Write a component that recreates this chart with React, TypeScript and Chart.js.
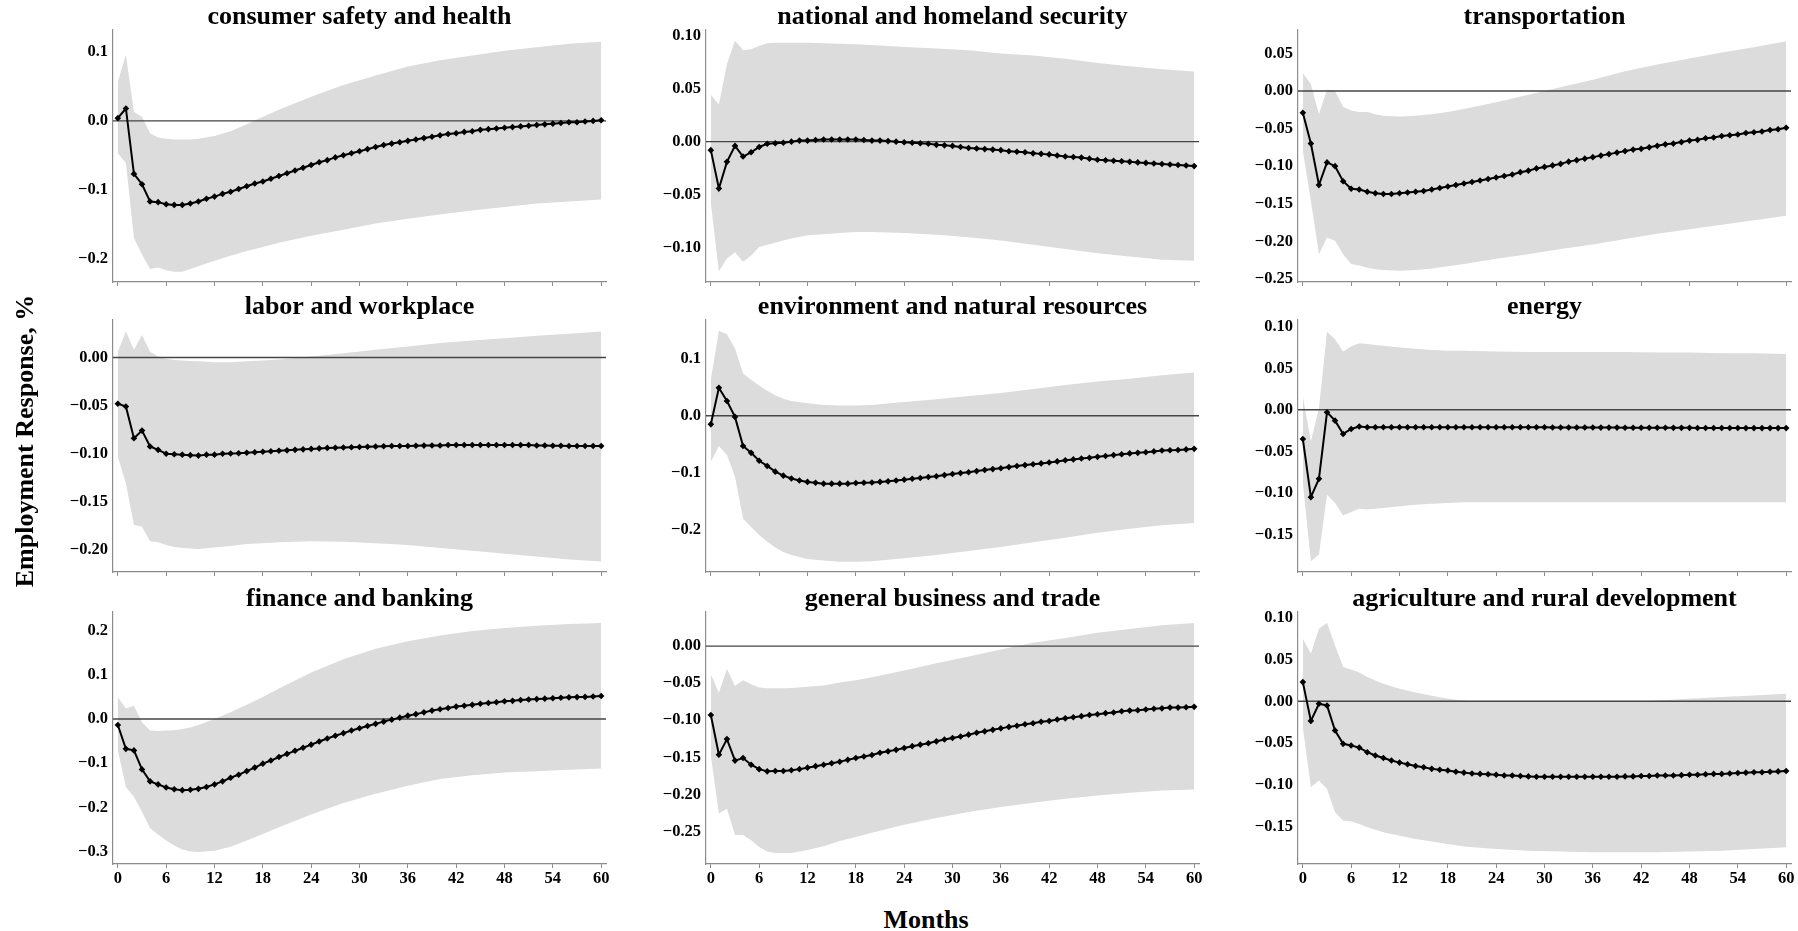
import React, { useEffect, useRef } from "react";
import { Chart, registerables } from "chart.js";

Chart.register(...registerables);

// ---------- categories ----------
const MONTHS = [
  0, 1, 2, 3, 4, 5, 6, 7, 8, 9, 10, 11, 12, 13, 14, 15, 16, 17, 18, 19, 20,
  21, 22, 23, 24, 25, 26, 27, 28, 29, 30, 31, 32, 33, 34, 35, 36, 37, 38, 39, 40,
  41, 42, 43, 44, 45, 46, 47, 48, 49, 50, 51, 52, 53, 54, 55, 56, 57, 58, 59, 60,
];
const BAND_MONTHS = [0, 1, 2, 3, 4, 5, 6, 7, 8, 9, 10, 12, 14, 16, 18, 20, 24, 28, 32, 36, 40, 44, 48, 52, 56, 60];
const X_TICKS = [0, 6, 12, 18, 24, 30, 36, 42, 48, 54, 60];
const X_LIMITS = [-0.6, 60.6];

// ---------- consumer safety and health ----------
const CONSUMER_IRF = [
  0.004, 0.018, -0.077, -0.092, -0.117, -0.118, -0.121, -0.122, -0.122, -0.12, -0.117,
  -0.113, -0.11, -0.106, -0.103, -0.099, -0.095, -0.091, -0.088, -0.084, -0.08,
  -0.076, -0.072, -0.068, -0.064, -0.06, -0.057, -0.053, -0.05, -0.047, -0.044,
  -0.041, -0.038, -0.035, -0.033, -0.031, -0.029, -0.027, -0.025, -0.023, -0.021,
  -0.019, -0.018, -0.016, -0.015, -0.013, -0.012, -0.011, -0.01, -0.009, -0.008,
  -0.007, -0.006, -0.005, -0.004, -0.003, -0.002, -0.002, -0.001, 0.0, 0.001,
];
const CONSUMER_UPPER = [0.057, 0.096, 0.013, 0.006, -0.018, -0.024, -0.026, -0.027, -0.027, -0.027, -0.026, -0.022, -0.015, -0.005, 0.006, 0.016, 0.035, 0.052, 0.066, 0.079, 0.088, 0.095, 0.102, 0.107, 0.112, 0.115];
const CONSUMER_LOWER = [-0.047, -0.061, -0.17, -0.194, -0.215, -0.213, -0.217, -0.219, -0.219, -0.215, -0.211, -0.203, -0.196, -0.189, -0.183, -0.177, -0.167, -0.158, -0.149, -0.142, -0.136, -0.13, -0.125, -0.12, -0.117, -0.114];
const CONSUMER_YLIM = [-0.234, 0.132];
const CONSUMER_TICKS = [-0.2, -0.1, 0.0, 0.1];

// ---------- national and homeland security ----------
const SECURITY_IRF = [
  -0.008, -0.044, -0.019, -0.004, -0.014, -0.01, -0.005, -0.002, -0.0015, -0.001, 0.0,
  0.001, 0.001, 0.0015, 0.002, 0.002, 0.002, 0.002, 0.002, 0.0015, 0.001,
  0.001, 0.0005, 0.0, -0.0005, -0.001, -0.0015, -0.002, -0.003, -0.0035, -0.004,
  -0.005, -0.006, -0.0065, -0.007, -0.0075, -0.008, -0.009, -0.0095, -0.01, -0.011,
  -0.0115, -0.012, -0.013, -0.014, -0.0145, -0.015, -0.016, -0.017, -0.0175, -0.018,
  -0.0185, -0.019, -0.0195, -0.02, -0.0205, -0.021, -0.0215, -0.022, -0.0225, -0.023,
];
const SECURITY_UPPER = [0.044, 0.035, 0.073, 0.095, 0.086, 0.087, 0.09, 0.0925, 0.093, 0.093, 0.093, 0.093, 0.0925, 0.092, 0.0915, 0.091, 0.089, 0.0875, 0.086, 0.083, 0.081, 0.078, 0.074, 0.071, 0.068, 0.066];
const SECURITY_LOWER = [-0.058, -0.122, -0.11, -0.104, -0.113, -0.107, -0.099, -0.097, -0.095, -0.093, -0.091, -0.088, -0.087, -0.086, -0.085, -0.085, -0.086, -0.0875, -0.09, -0.093, -0.097, -0.101, -0.105, -0.108, -0.111, -0.112];
const SECURITY_YLIM = [-0.132, 0.105];
const SECURITY_TICKS = [-0.1, -0.05, 0.0, 0.05, 0.1];

// ---------- transportation ----------
const TRANSPORT_IRF = [
  -0.029, -0.07, -0.125, -0.095, -0.1, -0.12, -0.13, -0.131, -0.134, -0.136, -0.137,
  -0.137, -0.136, -0.135, -0.134, -0.133, -0.131, -0.129, -0.127, -0.125, -0.123,
  -0.121, -0.119, -0.117, -0.115, -0.113, -0.111, -0.108, -0.106, -0.103, -0.101,
  -0.099, -0.097, -0.094, -0.092, -0.09, -0.088, -0.086, -0.084, -0.082, -0.08,
  -0.078, -0.077, -0.075, -0.073, -0.071, -0.07, -0.068, -0.066, -0.065, -0.063,
  -0.062, -0.06, -0.059, -0.058, -0.056, -0.055, -0.054, -0.052, -0.051, -0.049,
];
const TRANSPORT_UPPER = [0.024, 0.009, -0.031, 0.002, 0.0, -0.021, -0.026, -0.028, -0.028, -0.031, -0.033, -0.034, -0.033, -0.031, -0.028, -0.024, -0.015, -0.005, 0.005, 0.015, 0.026, 0.035, 0.043, 0.051, 0.058, 0.066];
const TRANSPORT_LOWER = [-0.08, -0.146, -0.217, -0.195, -0.199, -0.217, -0.23, -0.232, -0.235, -0.237, -0.238, -0.239, -0.238, -0.236, -0.233, -0.23, -0.223, -0.217, -0.21, -0.204, -0.197, -0.19, -0.184, -0.178, -0.172, -0.166];
const TRANSPORT_YLIM = [-0.254, 0.081];
const TRANSPORT_TICKS = [-0.25, -0.2, -0.15, -0.1, -0.05, 0.0, 0.05];

// ---------- labor and workplace ----------
const LABOR_IRF = [
  -0.048, -0.051, -0.084, -0.076, -0.0925, -0.096, -0.1, -0.1005, -0.101, -0.1015, -0.102,
  -0.101, -0.101, -0.1, -0.0998, -0.0995, -0.099, -0.0985, -0.098, -0.0975, -0.097,
  -0.0965, -0.096, -0.0955, -0.095, -0.0945, -0.094, -0.0938, -0.0936, -0.0933, -0.093,
  -0.0928, -0.0925, -0.0923, -0.092, -0.092, -0.092, -0.0918, -0.0916, -0.0915, -0.0915,
  -0.091, -0.091, -0.091, -0.091, -0.091, -0.091, -0.091, -0.091, -0.091, -0.091,
  -0.091, -0.0915, -0.0915, -0.0917, -0.0918, -0.092, -0.092, -0.092, -0.092, -0.092,
];
const LABOR_UPPER = [0.006, 0.027, 0.008, 0.0235, 0.006, 0.001, -0.0014, -0.0025, -0.003, -0.0035, -0.004, -0.005, -0.005, -0.004, -0.003, -0.002, 0.001, 0.0045, 0.008, 0.0114, 0.015, 0.0177, 0.02, 0.0225, 0.0246, 0.027];
const LABOR_LOWER = [-0.103, -0.131, -0.174, -0.176, -0.191, -0.192, -0.195, -0.197, -0.198, -0.1985, -0.199, -0.1975, -0.196, -0.194, -0.193, -0.192, -0.191, -0.1915, -0.193, -0.195, -0.198, -0.201, -0.204, -0.207, -0.21, -0.212];
const LABOR_YLIM = [-0.223, 0.039];
const LABOR_TICKS = [-0.2, -0.15, -0.1, -0.05, 0.0];

// ---------- environment and natural resources ----------
const ENVIRON_IRF = [
  -0.015, 0.049, 0.026, -0.002, -0.053, -0.065, -0.079, -0.088, -0.098, -0.105, -0.11,
  -0.1135, -0.116, -0.1175, -0.119, -0.119, -0.119, -0.119, -0.118, -0.1175, -0.117,
  -0.116, -0.115, -0.1135, -0.112, -0.1105, -0.109, -0.1075, -0.106, -0.104, -0.102,
  -0.1005, -0.099, -0.097, -0.095, -0.0935, -0.092, -0.09, -0.088, -0.0865, -0.085,
  -0.0835, -0.082, -0.08, -0.078, -0.0765, -0.075, -0.0735, -0.072, -0.0705, -0.069,
  -0.0675, -0.066, -0.065, -0.064, -0.0625, -0.061, -0.0605, -0.06, -0.059, -0.058,
];
const ENVIRON_UPPER = [0.063, 0.149, 0.143, 0.118, 0.074, 0.063, 0.053, 0.044, 0.036, 0.03, 0.026, 0.022, 0.019, 0.018, 0.018, 0.019, 0.024, 0.029, 0.0345, 0.04, 0.047, 0.054, 0.06, 0.065, 0.071, 0.076];
const ENVIRON_LOWER = [-0.081, -0.053, -0.069, -0.107, -0.18, -0.195, -0.209, -0.221, -0.231, -0.239, -0.244, -0.251, -0.254, -0.256, -0.256, -0.255, -0.25, -0.244, -0.237, -0.23, -0.222, -0.214, -0.205, -0.198, -0.192, -0.188];
const ENVIRON_YLIM = [-0.274, 0.168];
const ENVIRON_TICKS = [-0.2, -0.1, 0.0, 0.1];

// ---------- energy ----------
const ENERGY_IRF = [
  -0.035, -0.105, -0.083, -0.003, -0.013, -0.029, -0.023, -0.02, -0.021, -0.021, -0.021,
  -0.021, -0.021, -0.021, -0.021, -0.021, -0.021, -0.021, -0.021, -0.021, -0.021,
  -0.021, -0.021, -0.021, -0.021, -0.021, -0.021, -0.021, -0.021, -0.021, -0.021,
  -0.0212, -0.0212, -0.0212, -0.0213, -0.0213, -0.0213, -0.0214, -0.0214, -0.0214, -0.0215,
  -0.0215, -0.0215, -0.0216, -0.0216, -0.0216, -0.0217, -0.0217, -0.0217, -0.0218, -0.0218,
  -0.0218, -0.0219, -0.0219, -0.0219, -0.022, -0.022, -0.022, -0.022, -0.022, -0.022,
];
const ENERGY_UPPER = [0.016, -0.038, 0.002, 0.094, 0.085, 0.07, 0.076, 0.08, 0.079, 0.078, 0.077, 0.075, 0.0735, 0.072, 0.071, 0.071, 0.07, 0.0695, 0.0695, 0.0695, 0.0695, 0.069, 0.069, 0.068, 0.068, 0.067];
const ENERGY_LOWER = [-0.088, -0.182, -0.174, -0.102, -0.112, -0.127, -0.123, -0.119, -0.12, -0.119, -0.118, -0.116, -0.114, -0.113, -0.112, -0.111, -0.111, -0.111, -0.111, -0.111, -0.111, -0.111, -0.111, -0.111, -0.111, -0.111];
const ENERGY_YLIM = [-0.195, 0.108];
const ENERGY_TICKS = [-0.15, -0.1, -0.05, 0.0, 0.05, 0.1];

// ---------- finance and banking ----------
const FINANCE_IRF = [
  -0.0135, -0.0675, -0.071, -0.114, -0.141, -0.148, -0.155, -0.159, -0.161, -0.16, -0.158,
  -0.154, -0.148, -0.141, -0.133, -0.126, -0.118, -0.11, -0.101, -0.094, -0.086,
  -0.079, -0.072, -0.065, -0.058, -0.051, -0.044, -0.038, -0.032, -0.026, -0.021,
  -0.016, -0.011, -0.006, -0.0015, 0.003, 0.0075, 0.011, 0.015, 0.019, 0.022,
  0.025, 0.028, 0.03, 0.032, 0.0345, 0.036, 0.038, 0.04, 0.041, 0.043,
  0.044, 0.045, 0.046, 0.047, 0.048, 0.049, 0.0495, 0.05, 0.051, 0.052,
];
const FINANCE_UPPER = [0.049, 0.024, 0.03, -0.0075, -0.026, -0.027, -0.026, -0.0255, -0.0225, -0.019, -0.0135, 0.0, 0.015, 0.032, 0.05, 0.069, 0.105, 0.135, 0.159, 0.176, 0.189, 0.199, 0.206, 0.211, 0.215, 0.217];
const FINANCE_LOWER = [-0.071, -0.154, -0.176, -0.21, -0.247, -0.261, -0.275, -0.286, -0.295, -0.3, -0.301, -0.298, -0.289, -0.275, -0.26, -0.245, -0.216, -0.19, -0.169, -0.151, -0.136, -0.127, -0.121, -0.118, -0.115, -0.112];
const FINANCE_YLIM = [-0.328, 0.242];
const FINANCE_TICKS = [-0.3, -0.2, -0.1, 0.0, 0.1, 0.2];

// ---------- general business and trade ----------
const BUSINESS_IRF = [
  -0.093, -0.1465, -0.1255, -0.1545, -0.151, -0.16, -0.166, -0.169, -0.1685, -0.1685, -0.1675,
  -0.166, -0.164, -0.162, -0.16, -0.158, -0.156, -0.1535, -0.151, -0.149, -0.147,
  -0.144, -0.142, -0.14, -0.1375, -0.135, -0.133, -0.131, -0.1285, -0.126, -0.124,
  -0.122, -0.1195, -0.117, -0.115, -0.113, -0.111, -0.109, -0.1075, -0.1055, -0.104,
  -0.102, -0.101, -0.099, -0.0975, -0.096, -0.0945, -0.093, -0.092, -0.0905, -0.0895,
  -0.088, -0.087, -0.0865, -0.0855, -0.0845, -0.084, -0.083, -0.083, -0.0825, -0.082,
];
const BUSINESS_UPPER = [-0.038, -0.063, -0.031, -0.054, -0.046, -0.0515, -0.056, -0.057, -0.057, -0.057, -0.0565, -0.055, -0.053, -0.049, -0.046, -0.042, -0.033, -0.023, -0.014, -0.0045, 0.0045, 0.011, 0.018, 0.023, 0.028, 0.031];
const BUSINESS_LOWER = [-0.148, -0.226, -0.2195, -0.255, -0.255, -0.262, -0.271, -0.277, -0.279, -0.279, -0.279, -0.275, -0.27, -0.263, -0.2575, -0.252, -0.241, -0.232, -0.224, -0.217, -0.2115, -0.206, -0.2015, -0.198, -0.195, -0.1935];
const BUSINESS_YLIM = [-0.294, 0.046];
const BUSINESS_TICKS = [-0.25, -0.2, -0.15, -0.1, -0.05, 0.0];

// ---------- agriculture and rural development ----------
const AGRI_IRF = [
  0.023, -0.0235, -0.003, -0.005, -0.035, -0.051, -0.053, -0.0555, -0.061, -0.065, -0.068,
  -0.071, -0.0735, -0.0755, -0.0775, -0.079, -0.081, -0.082, -0.083, -0.0845, -0.0855,
  -0.0865, -0.087, -0.0875, -0.088, -0.089, -0.089, -0.0895, -0.09, -0.0905, -0.0905,
  -0.0905, -0.0905, -0.0905, -0.0905, -0.0905, -0.0905, -0.0905, -0.0905, -0.0905, -0.09,
  -0.09, -0.0895, -0.0895, -0.089, -0.089, -0.089, -0.0885, -0.088, -0.088, -0.0875,
  -0.087, -0.087, -0.0865, -0.086, -0.0855, -0.085, -0.085, -0.0845, -0.084, -0.0835,
];
const AGRI_UPPER = [0.075, 0.057, 0.087, 0.094, 0.067, 0.041, 0.038, 0.0345, 0.029, 0.025, 0.021, 0.015, 0.0105, 0.0065, 0.003, 0.001, -0.001, -0.001, -0.001, -0.001, -0.0005, 0.001, 0.003, 0.005, 0.007, 0.009];
const AGRI_LOWER = [-0.031, -0.103, -0.095, -0.105, -0.133, -0.143, -0.144, -0.147, -0.151, -0.154, -0.157, -0.161, -0.165, -0.168, -0.171, -0.174, -0.177, -0.179, -0.18, -0.181, -0.181, -0.181, -0.18, -0.179, -0.177, -0.175];
const AGRI_YLIM = [-0.195, 0.107];
const AGRI_TICKS = [-0.15, -0.1, -0.05, 0.0, 0.05, 0.1];

// ---------- panel table (built from the arrays above) ----------
const PANELS = [
  { title: "consumer safety and health", irf: CONSUMER_IRF, upper: CONSUMER_UPPER, lower: CONSUMER_LOWER, ylim: CONSUMER_YLIM, ticks: CONSUMER_TICKS, dec: 1 },
  { title: "national and homeland security", irf: SECURITY_IRF, upper: SECURITY_UPPER, lower: SECURITY_LOWER, ylim: SECURITY_YLIM, ticks: SECURITY_TICKS, dec: 2 },
  { title: "transportation", irf: TRANSPORT_IRF, upper: TRANSPORT_UPPER, lower: TRANSPORT_LOWER, ylim: TRANSPORT_YLIM, ticks: TRANSPORT_TICKS, dec: 2 },
  { title: "labor and workplace", irf: LABOR_IRF, upper: LABOR_UPPER, lower: LABOR_LOWER, ylim: LABOR_YLIM, ticks: LABOR_TICKS, dec: 2 },
  { title: "environment and natural resources", irf: ENVIRON_IRF, upper: ENVIRON_UPPER, lower: ENVIRON_LOWER, ylim: ENVIRON_YLIM, ticks: ENVIRON_TICKS, dec: 1 },
  { title: "energy", irf: ENERGY_IRF, upper: ENERGY_UPPER, lower: ENERGY_LOWER, ylim: ENERGY_YLIM, ticks: ENERGY_TICKS, dec: 2 },
  { title: "finance and banking", irf: FINANCE_IRF, upper: FINANCE_UPPER, lower: FINANCE_LOWER, ylim: FINANCE_YLIM, ticks: FINANCE_TICKS, dec: 1 },
  { title: "general business and trade", irf: BUSINESS_IRF, upper: BUSINESS_UPPER, lower: BUSINESS_LOWER, ylim: BUSINESS_YLIM, ticks: BUSINESS_TICKS, dec: 2 },
  { title: "agriculture and rural development", irf: AGRI_IRF, upper: AGRI_UPPER, lower: AGRI_LOWER, ylim: AGRI_YLIM, ticks: AGRI_TICKS, dec: 2 },
];

// ---------- layout & style ----------
const FONT = '"Liberation Serif", "Times New Roman", Times, serif';
const COL_LEFT = [113, 706, 1298];
const ROW_TOP = [30, 320, 612];
const PLOT_W = 493;
const PLOT_H = 252;
const Y_AXIS_W = 70;
const TITLE_H = 26;
const X_AXIS_H = 32;
const PAD_R = 22;
const TICK_SIZE = 16.5;
const SPINE = "#8c8c8c";
const BAND = "#dcdcdc";
const ZERO = "#454545";

function fmt(v: number, dec: number): string {
  const s = Math.abs(v).toFixed(dec);
  return (v < -1e-9 ? "\u2212" : "") + s;
}

function Panel({ p, col, row }: { p: any; col: number; row: number }) {
  const ref = useRef<HTMLCanvasElement>(null);
  const showX = row === 2;
  useEffect(() => {
    const chart = new Chart(ref.current as HTMLCanvasElement, {
      type: "line",
      data: {
        datasets: [
          {
            data: MONTHS.map((m, i) => ({ x: m, y: p.irf[i] })),
            borderColor: "#000",
            borderWidth: 2,
            pointStyle: "rectRot",
            pointRadius: 3.3,
            pointBackgroundColor: "#000",
            pointBorderColor: "#000",
            pointBorderWidth: 0,
            fill: false,
            tension: 0,
          },
          {
            data: [
              { x: X_LIMITS[0], y: 0 },
              { x: X_LIMITS[1], y: 0 },
            ],
            borderColor: ZERO,
            borderWidth: 1.4,
            pointRadius: 0,
            fill: false,
          },
          {
            data: BAND_MONTHS.map((m, i) => ({ x: m, y: p.upper[i] })),
            borderWidth: 0,
            borderColor: "rgba(0,0,0,0)",
            pointRadius: 0,
            backgroundColor: BAND,
            fill: "+1",
          },
          {
            data: BAND_MONTHS.map((m, i) => ({ x: m, y: p.lower[i] })),
            borderWidth: 0,
            borderColor: "rgba(0,0,0,0)",
            pointRadius: 0,
            fill: false,
          },
        ],
      },
      options: {
        animation: false,
        responsive: false,
        events: [],
        layout: { padding: { left: 0, right: PAD_R, top: 0, bottom: 0 } },
        plugins: {
          legend: { display: false },
          tooltip: { enabled: false },
          title: {
            display: true,
            fullSize: false,
            text: p.title,
            color: "#000",
            font: { family: FONT, size: 26, weight: "bold", lineHeight: 1 },
            padding: 0,
          },
        },
        scales: {
          x: {
            type: "linear",
            min: X_LIMITS[0],
            max: X_LIMITS[1],
            bounds: "data",
            afterBuildTicks: (s: any) => {
              s.ticks = X_TICKS.map((v) => ({ value: v }));
            },
            afterFit: (s: any) => {
              s.height = X_AXIS_H;
              s.paddingLeft = 0;
              s.paddingRight = 0;
            },
            ticks: {
              display: showX,
              color: "#000",
              font: { family: FONT, size: TICK_SIZE, weight: "bold" },
              padding: 1,
              maxRotation: 0,
              autoSkip: false,
              callback: (v: any) => String(v),
            },
            grid: { display: true, drawOnChartArea: false, drawTicks: true, tickLength: 4, color: SPINE, lineWidth: 1 },
            border: { display: true, color: SPINE, width: 1.2 },
          },
          y: {
            type: "linear",
            min: p.ylim[0],
            max: p.ylim[1],
            bounds: "data",
            afterBuildTicks: (s: any) => {
              s.ticks = p.ticks.map((v: number) => ({ value: v }));
            },
            afterFit: (s: any) => {
              s.width = Y_AXIS_W;
              s.paddingTop = 0;
              s.paddingBottom = 0;
            },
            ticks: {
              color: "#000",
              font: { family: FONT, size: TICK_SIZE, weight: "bold" },
              padding: 5,
              autoSkip: false,
              callback: (v: any) => fmt(Number(v), p.dec),
            },
            grid: { display: false, drawTicks: false },
            border: { display: true, color: SPINE, width: 1.2 },
          },
        },
      },
    } as any);
    return () => chart.destroy();
  }, []);

  const w = Y_AXIS_W + PLOT_W + PAD_R;
  const h = TITLE_H + PLOT_H + X_AXIS_H;
  return (
    <canvas
      ref={ref}
      width={w}
      height={h}
      style={{
        position: "absolute",
        left: COL_LEFT[col] - Y_AXIS_W,
        top: ROW_TOP[row] - TITLE_H,
        width: w,
        height: h,
      }}
    />
  );
}

export default function App() {
  return (
    <div
      style={{
        position: "absolute",
        left: 0,
        top: 0,
        width: 1798,
        height: 931,
        background: "#fff",
        overflow: "hidden",
        fontFamily: FONT,
      }}
    >
      {PANELS.map((p, i) => (
        <Panel key={p.title} p={p} col={i % 3} row={Math.floor(i / 3)} />
      ))}
      <div
        style={{
          position: "absolute",
          left: 25,
          top: 441,
          transform: "translate(-50%, -50%) rotate(-90deg)",
          whiteSpace: "nowrap",
          fontSize: 26,
          fontWeight: "bold",
          color: "#000",
          lineHeight: 1,
        }}
      >
        Employment Response, %
      </div>
      <div
        style={{
          position: "absolute",
          left: 926,
          top: 920,
          transform: "translate(-50%, -50%)",
          whiteSpace: "nowrap",
          fontSize: 26,
          fontWeight: "bold",
          color: "#000",
          lineHeight: 1,
        }}
      >
        Months
      </div>
    </div>
  );
}
